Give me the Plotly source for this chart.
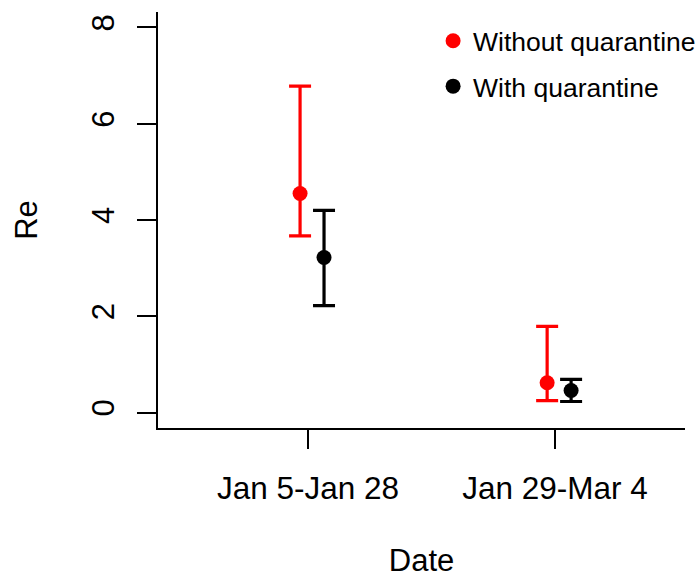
import plotly.graph_objects as go

categories = ["Jan 5-Jan 28", "Jan 29-Mar 4"]
y_ticks = [0, 2, 4, 6, 8]

without_center = [4.55, 0.62]
without_upper = [6.78, 1.79]
without_lower = [3.67, 0.25]

with_center = [3.22, 0.46]
with_upper = [4.20, 0.69]
with_lower = [2.22, 0.23]

series_names = ["Without quarantine", "With quarantine"]
colors = ["#ff0000", "#000000"]
offsets = [-0.032, 0.065]

font_family = "Liberation Sans, Arial, Helvetica, sans-serif"

fig = go.Figure()
series = [
    (without_center, without_upper, without_lower),
    (with_center, with_upper, with_lower),
]
for i, (c, u, l) in enumerate(series):
    xs = [k + 1 + offsets[i] for k in range(len(categories))]
    fig.add_trace(go.Scatter(
        x=xs, y=c, mode="markers", name=series_names[i],
        legendgroup=f"g{i}",
        marker=dict(color=colors[i], size=15),
        error_y=dict(type="data", symmetric=False,
                     array=[uu - cc for uu, cc in zip(u, c)],
                     arrayminus=[cc - ll for cc, ll in zip(c, l)],
                     color=colors[i], thickness=3.2, width=11),
    ))

fig.update_layout(
    width=697, height=578,
    margin=dict(l=158, r=12, t=12, b=150, autoexpand=False),
    paper_bgcolor="white", plot_bgcolor="white",
    font=dict(family=font_family, color="black", size=30),
    showlegend=True,
    legend=dict(x=0.522, y=0.988, xanchor="left", yanchor="top",
                font=dict(size=26.5), traceorder="grouped", tracegroupgap=8,
                bgcolor="rgba(0,0,0,0)", itemsizing="trace"),
)
fig.update_xaxes(
    range=[0.393, 2.526], tickvals=[1, 2], ticktext=categories,
    showline=True, linecolor="black", linewidth=2,
    ticks="outside", ticklen=19, tickwidth=2, tickcolor="black",
    showgrid=False, zeroline=False, automargin=False,
    tickfont=dict(size=31.5), ticklabelstandoff=12,
    title=dict(text="Date", font=dict(size=31), standoff=49),
)
fig.update_yaxes(
    range=[-0.32, 8.32], tickvals=y_ticks,
    showline=True, linecolor="black", linewidth=2,
    ticks="outside", ticklen=19, tickwidth=2, tickcolor="black",
    showgrid=False, zeroline=False, tickangle=-90, automargin=False,
    tickfont=dict(size=31), ticklabelstandoff=11,
    title=dict(text="Re", font=dict(size=31), standoff=39),
)

fig.write_html("out.html", config={"displayModeBar": False},
               post_script="document.body.style.margin='0';")
